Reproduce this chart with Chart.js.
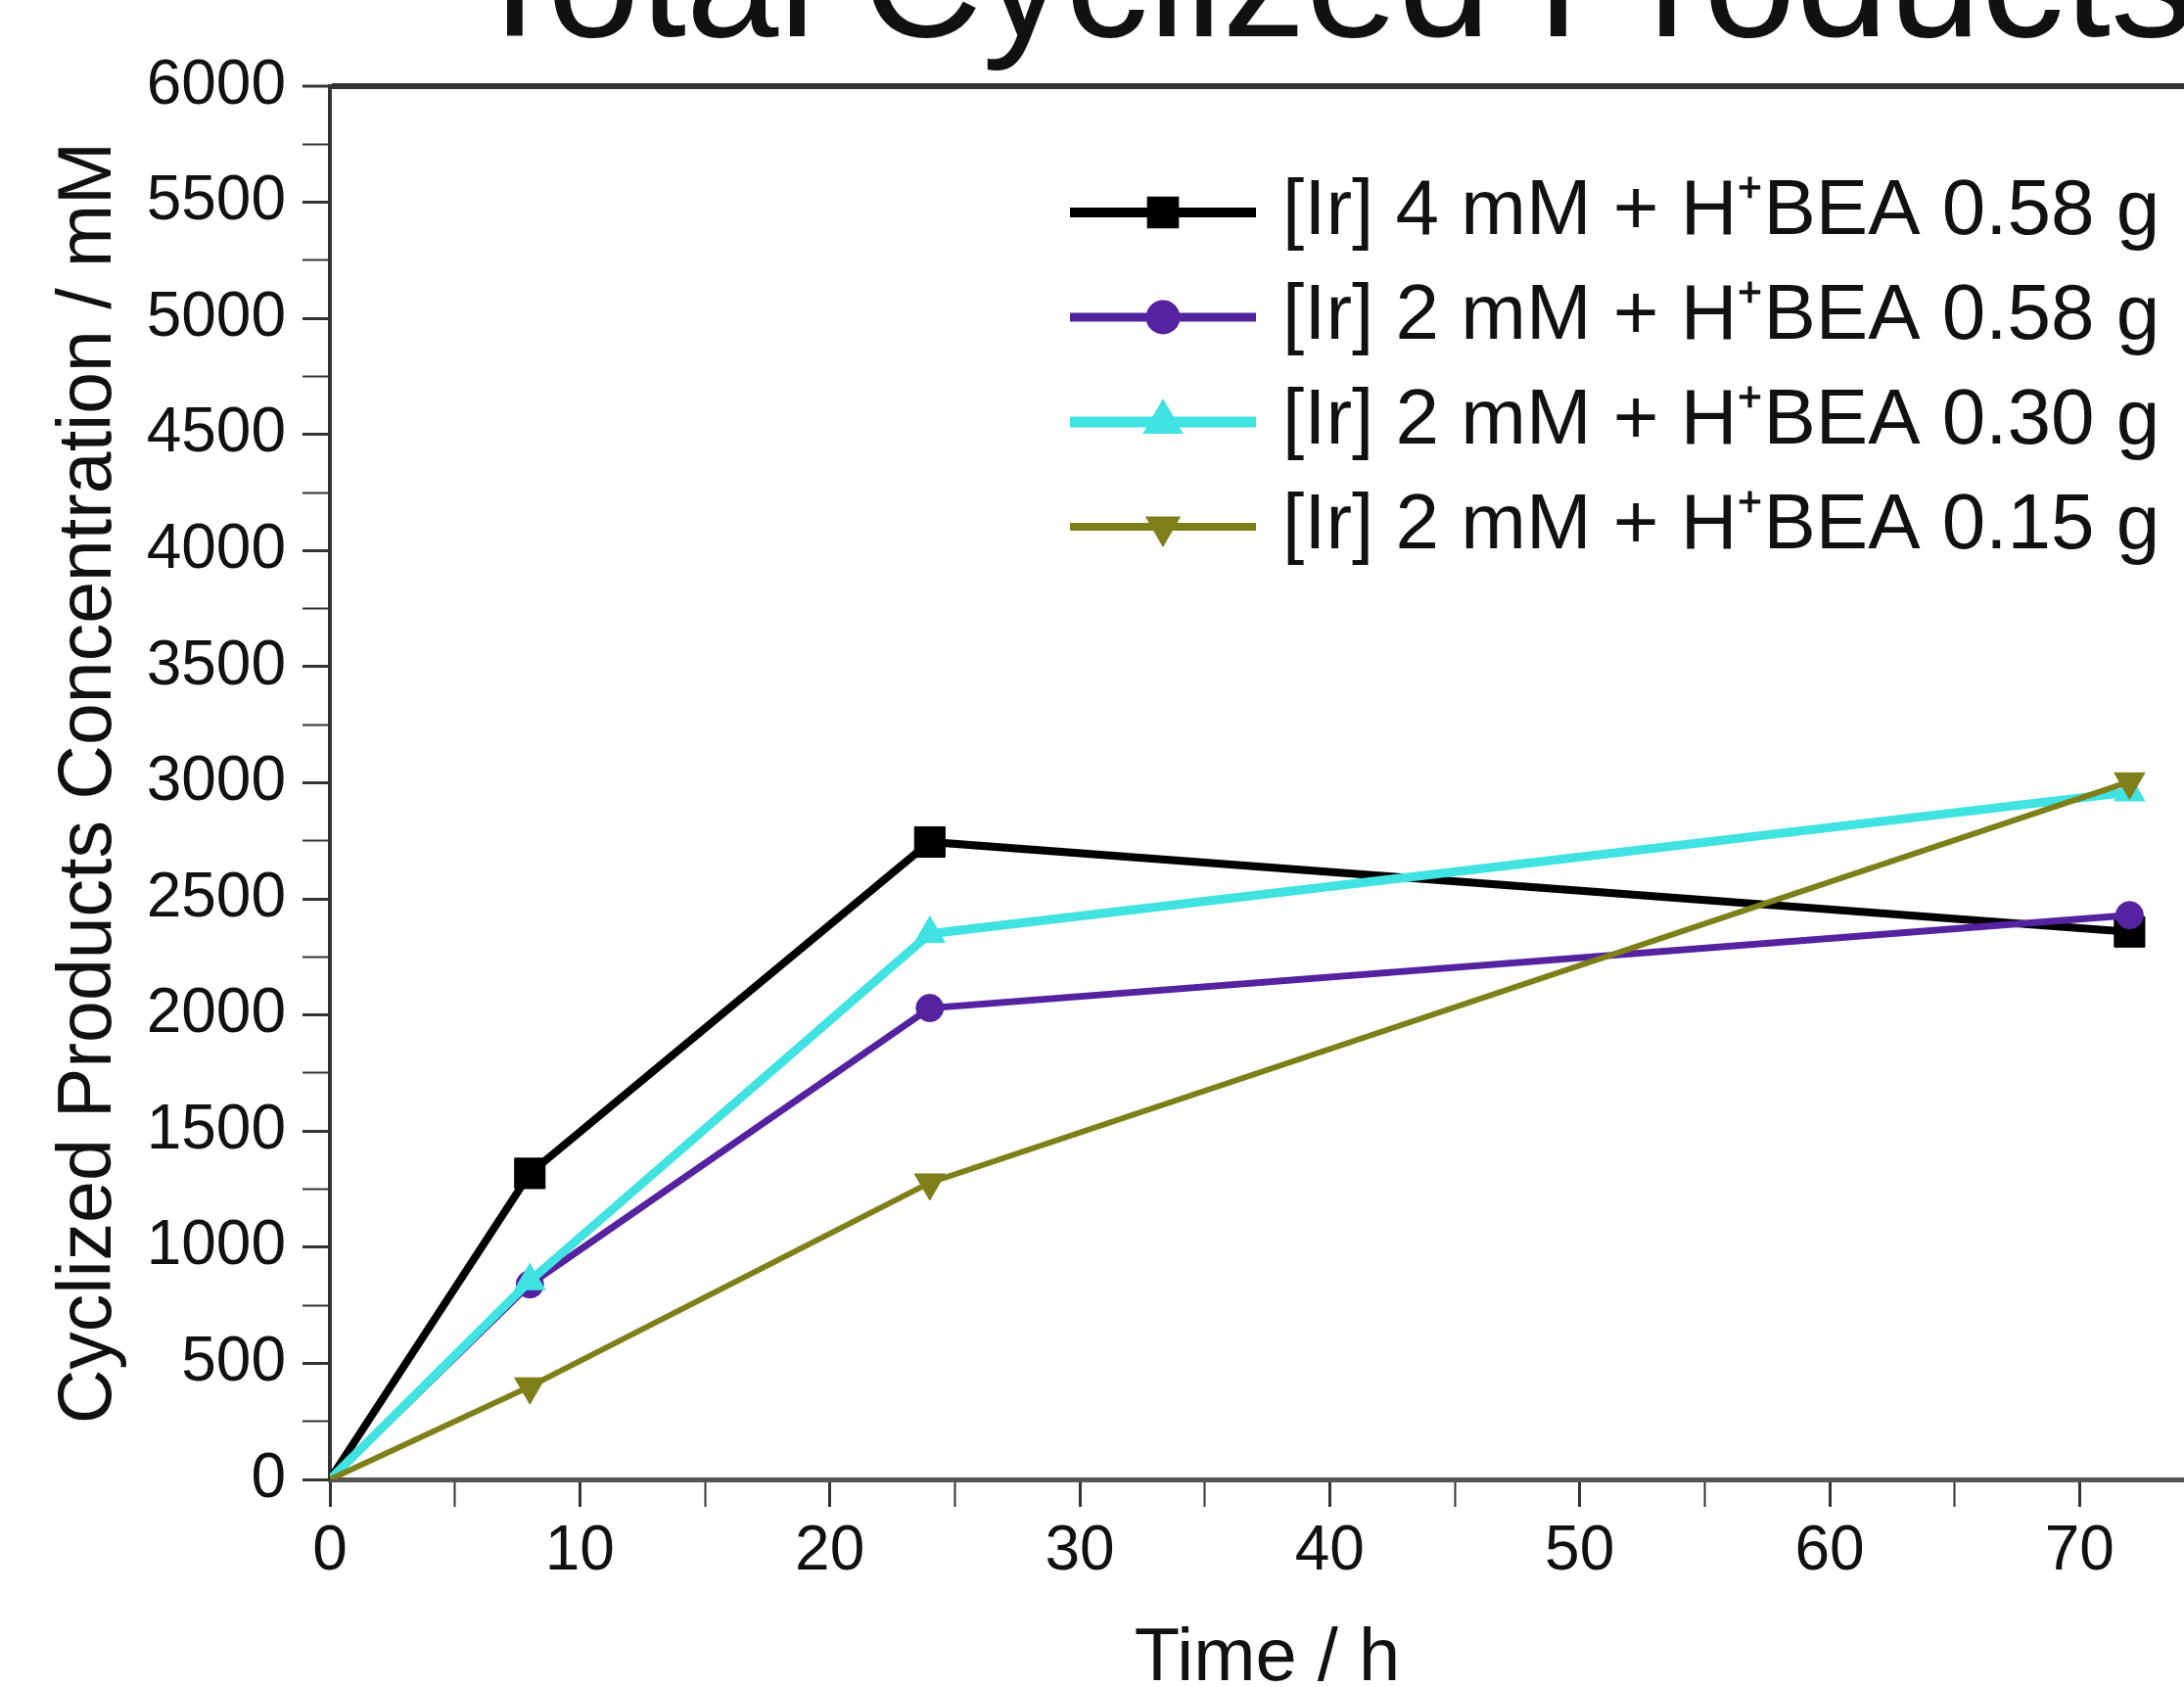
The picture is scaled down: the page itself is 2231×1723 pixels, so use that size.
<!DOCTYPE html>
<html>
<head>
<meta charset="utf-8">
<title>Total Cyclized Products</title>
<script src="https://cdn.jsdelivr.net/npm/chart.js@4.4.1/dist/chart.umd.min.js"></script>
<style>
  html, body { margin: 0; padding: 0; background: #fff; overflow: hidden; width: 2231px; height: 1723px; }
  #chart { position: absolute; left: 0; top: -130px; }
</style>
</head>
<body>
<canvas id="chart" width="2275" height="1893"></canvas>
<script>
// Time points (h) and total cyclized products (mM) per run
const timeH = [0, 8, 24, 72];
const ir4mM_058g = [0, 1318, 2745, 2358];
const ir2mM_058g = [0, 840, 2030, 2430];
const ir2mM_030g = [0, 855, 2350, 2960];
const ir2mM_015g = [0, 400, 1278, 3005];

const seriesNames = [
  '[Ir] 4 mM + H\u207ABEA 0.58 g',
  '[Ir] 2 mM + H\u207ABEA 0.58 g',
  '[Ir] 2 mM + H\u207ABEA 0.30 g',
  '[Ir] 2 mM + H\u207ABEA 0.15 g'
];

const yMin = 0, yMax = 6000, yLabelStep = 500, yMinorStep = 250;
const xMin = 0, xMax = 75, xLabelStep = 10, xMinorStep = 5;

const SANS = "'Liberation Sans', Arial, sans-serif";

function toPoints(values) {
  return timeH.map((t, i) => ({ x: t, y: values[i] }));
}

function makeSeries(label, values, color, style, radius, rotation, width, order) {
  return {
    label: label,
    data: toPoints(values),
    borderColor: color,
    backgroundColor: color,
    borderWidth: width,
    pointStyle: style,
    pointRotation: rotation,
    pointRadius: ctx => (ctx.dataIndex === 0 ? 0 : radius),
    pointBackgroundColor: color,
    pointBorderColor: color,
    pointBorderWidth: 1,
    tension: 0,
    order: order
  };
}

const datasets = [
  makeSeries(seriesNames[0], ir4mM_058g, '#000000', 'rect', 22, 0, 8, 3),
  makeSeries(seriesNames[1], ir2mM_058g, '#5522a0', 'circle', 14, 0, 7, 2),
  makeSeries(seriesNames[2], ir2mM_030g, '#40e2e2', 'triangle', 18, 0, 9, 1),
  makeSeries(seriesNames[3], ir2mM_015g, '#7f7f1a', 'triangle', 18, 180, 6, 0)
];

// legend glyph: short line with the marker in the middle
function legendSample(ds) {
  const c = document.createElement('canvas');
  c.width = 190;
  c.height = 48;
  const g = c.getContext('2d');
  g.strokeStyle = ds.borderColor;
  g.lineWidth = ds.borderWidth + 2;
  g.beginPath();
  g.moveTo(0, 24);
  g.lineTo(190, 24);
  g.stroke();
  g.fillStyle = ds.borderColor;
  const r = ds.pointStyle === 'rect' ? 16 : 13;
  Chart.helpers.drawPoint(g, { pointStyle: ds.pointStyle, radius: r, rotation: ds.pointRotation, borderWidth: 1 }, 95, 24);
  return c;
}

// legend inside the plot at top right; title sits a bit right of the plot centre
const boxPlacer = {
  id: 'boxPlacer',
  afterLayout(chart) {
    const area = chart.chartArea;
    const lg = chart.legend;
    if (lg) {
      lg.left = area.left + 742;
      lg.right = area.right;
      lg.top = area.top + 62;
      lg.bottom = area.bottom;
      lg.width = lg.right - lg.left;
      lg.height = lg.bottom - lg.top;
    }
    const tb = chart.titleBlock;
    if (tb) {
      tb.left += 63;
      tb.right += 63;
    }
  }
};

new Chart(document.getElementById('chart'), {
  type: 'line',
  data: { datasets: datasets },
  plugins: [boxPlacer],
  options: {
    responsive: false,
    animation: false,
    devicePixelRatio: 1,
    layout: { padding: 0 },
    plugins: {
      title: {
        display: true,
        text: 'Total Cyclized Products',
        fullSize: false,
        color: '#111',
        font: { family: SANS, size: 170, weight: 'normal' },
        padding: { top: 18, bottom: -4 }
      },
      legend: {
        position: 'chartArea',
        align: 'start',
        labels: {
          usePointStyle: true,
          pointStyleWidth: 164,
          padding: 27,
          color: '#111',
          font: { family: SANS, size: 80 },
          generateLabels(chart) {
            return chart.data.datasets.map((ds, i) => ({
              text: ds.label,
              datasetIndex: i,
              pointStyle: legendSample(ds),
              fillStyle: ds.borderColor,
              strokeStyle: ds.borderColor,
              lineWidth: 0,
              hidden: false,
              fontColor: '#111'
            }));
          }
        }
      },
      tooltip: { enabled: false }
    },
    scales: {
      x: {
        type: 'linear',
        min: xMin,
        max: xMax,
        afterFit(scale) { scale.height = 252; },
        border: { display: true, color: '#555', width: 5 },
        grid: {
          drawOnChartArea: false,
          tickLength: 28,
          tickColor: '#333',
          tickWidth: ctx => (ctx.tick && ctx.tick.value % xLabelStep === 0 ? 3 : 2)
        },
        ticks: {
          stepSize: xMinorStep,
          includeBounds: false,
          autoSkip: false,
          maxRotation: 0,
          padding: 8,
          color: '#111',
          font: { family: SANS, size: 64 },
          callback: v => (v % xLabelStep === 0 ? String(v) : '')
        },
        title: {
          display: true,
          text: 'Time / h',
          color: '#111',
          font: { family: SANS, size: 76 },
          padding: { top: 0, bottom: 22 }
        }
      },
      y: {
        type: 'linear',
        min: yMin,
        max: yMax,
        afterFit(scale) { scale.width = 337; },
        border: { display: true, color: '#333', width: 4 },
        grid: {
          drawOnChartArea: true,
          color: ctx => (ctx.tick && ctx.tick.value === yMax ? '#333' : 'rgba(0,0,0,0)'),
          lineWidth: ctx => (ctx.tick && ctx.tick.value === yMax ? 6 : 1),
          tickLength: 28,
          tickColor: '#333',
          tickWidth: ctx => (ctx.tick && ctx.tick.value % yLabelStep === 0 ? 3 : 2)
        },
        ticks: {
          stepSize: yMinorStep,
          includeBounds: false,
          autoSkip: false,
          padding: 17,
          color: '#111',
          font: { family: SANS, size: 64 },
          callback: v => (v % yLabelStep === 0 ? String(v) : '')
        },
        title: {
          display: true,
          text: 'Cyclized Products Concentration / mM',
          color: '#111',
          font: { family: SANS, size: 77 },
          padding: { top: 46, bottom: 0 }
        }
      }
    }
  }
});
</script>
</body>
</html>
